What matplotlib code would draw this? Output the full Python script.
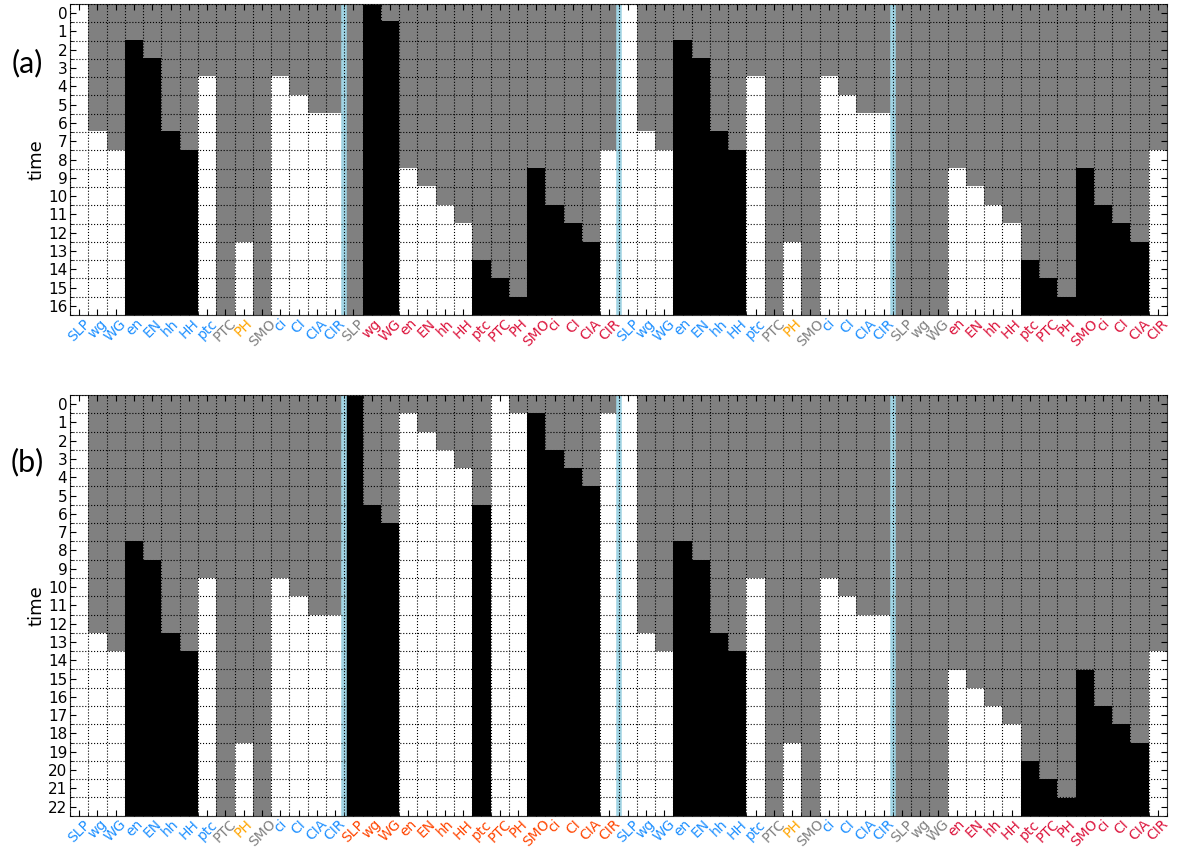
import matplotlib.pyplot as plt
import numpy as np
from matplotlib.colors import ListedColormap

genes = ['SLP', 'wg', 'WG', 'en', 'EN', 'hh', 'HH', 'ptc', 'PTC', 'PH', 'SMO', 'ci', 'CI', 'CIA', 'CIR']

# node state once fixed: 'k' = on (black), 'w' = off (white), None = never fixed (grey)
# onset = first time step at which the node takes its fixed value
state_a = [
    ['w', 'w', 'w', 'k', 'k', 'k', 'k', 'w', None, 'w', None, 'w', 'w', 'w', 'w'],
    [None, 'k', 'k', 'w', 'w', 'w', 'w', 'k', 'k', 'k', 'k', 'k', 'k', 'k', 'w'],
    ['w', 'w', 'w', 'k', 'k', 'k', 'k', 'w', None, 'w', None, 'w', 'w', 'w', 'w'],
    [None, None, None, 'w', 'w', 'w', 'w', 'k', 'k', 'k', 'k', 'k', 'k', 'k', 'w'],
]
onset_a = [
    [0, 7, 8, 2, 3, 7, 8, 4, None, 13, None, 4, 5, 6, 6],
    [None, 0, 1, 9, 10, 11, 12, 14, 15, 16, 9, 11, 12, 13, 8],
    [0, 7, 8, 2, 3, 7, 8, 4, None, 13, None, 4, 5, 6, 6],
    [None, None, None, 9, 10, 11, 12, 14, 15, 16, 9, 11, 12, 13, 8],
]

state_b = [
    ['w', 'w', 'w', 'k', 'k', 'k', 'k', 'w', None, 'w', None, 'w', 'w', 'w', 'w'],
    ['k', 'k', 'k', 'w', 'w', 'w', 'w', 'k', 'w', 'w', 'k', 'k', 'k', 'k', 'w'],
    ['w', 'w', 'w', 'k', 'k', 'k', 'k', 'w', None, 'w', None, 'w', 'w', 'w', 'w'],
    [None, None, None, 'w', 'w', 'w', 'w', 'k', 'k', 'k', 'k', 'k', 'k', 'k', 'w'],
]
onset_b = [
    [0, 13, 14, 8, 9, 13, 14, 10, None, 19, None, 10, 11, 12, 12],
    [0, 6, 7, 1, 2, 3, 4, 6, 0, 1, 1, 3, 4, 5, 1],
    [0, 13, 14, 8, 9, 13, 14, 10, None, 19, None, 10, 11, 12, 12],
    [None, None, None, 15, 16, 17, 18, 20, 21, 22, 15, 17, 18, 19, 14],
]

# label colours per cell
B, G, O, R, OR = '#1e90ff', '#808080', '#ffa500', '#dc143c', '#ff4500'
cell_ref = [B] * 8 + [G, O, G] + [B] * 4
colors_a = [cell_ref, [G] + [R] * 14, cell_ref, [G] * 3 + [R] * 12]
colors_b = [cell_ref, [OR] * 15, cell_ref, [G] * 3 + [R] * 12]

ntime_a = 17
ntime_b = 23

cmap = ListedColormap(['black', '#808080', 'white'])
code = {'k': 0, 'w': 2}


def build(states, onsets, nt):
    ncol = sum(len(s) for s in states)
    m = np.ones((nt, ncol))
    j = 0
    for st, on in zip(states, onsets):
        for s, t in zip(st, on):
            if s is not None:
                m[t:, j] = code[s]
            j += 1
    return m


def draw(ax, states, onsets, colors, nt):
    m = build(states, onsets, nt)
    ncol = m.shape[1]
    ax.imshow(m, cmap=cmap, vmin=0, vmax=2, aspect='auto',
              interpolation='nearest', zorder=0)
    for k in range(1, len(states)):
        ax.axvline(k * len(genes) - 0.5, color='#a0d4e4', lw=4, zorder=2)
    ax.set_xticks(np.arange(ncol))
    labels = ax.set_xticklabels(genes * len(states), rotation=45, fontsize=10)
    for lab, c in zip(labels, sum(colors, [])):
        lab.set_color(c)
    ax.set_yticks(np.arange(nt))
    ax.set_yticklabels([str(t) for t in range(nt)], fontsize=11)
    ax.set_xticks(np.arange(-0.5, ncol), minor=True)
    ax.set_yticks(np.arange(-0.5, nt), minor=True)
    ax.set_xlim(-0.5, ncol - 0.5)
    ax.set_ylim(nt - 0.5, -0.5)
    ax.grid(which='minor', color='k', linestyle=':', linewidth=0.8)
    ax.set_axisbelow(False)
    ax.tick_params(which='both', direction='in', top=True, right=True)
    ax.tick_params(axis='x', which='major', length=4, pad=1)
    ax.tick_params(axis='y', which='major', length=4, pad=2)
    ax.tick_params(which='minor', length=2)
    ax.set_ylabel('time', fontsize=13, labelpad=2)
    for sp in ax.spines.values():
        sp.set_color('#333333')


fig = plt.figure(figsize=(11.77, 8.5), dpi=100)
ax1 = fig.add_axes([0.0595, 0.6294, 0.932, 0.3659])
ax2 = fig.add_axes([0.0595, 0.0403, 0.932, 0.4950])

draw(ax1, state_a, onset_a, colors_a, ntime_a)
draw(ax2, state_b, onset_b, colors_b, ntime_b)

fig.text(0.023, 0.926, '(a)', fontsize=22, family='Lato', ha='center', va='center')
fig.text(0.023, 0.456, '(b)', fontsize=22, family='Lato', ha='center', va='center')

fig.savefig('out.png', dpi=100)
